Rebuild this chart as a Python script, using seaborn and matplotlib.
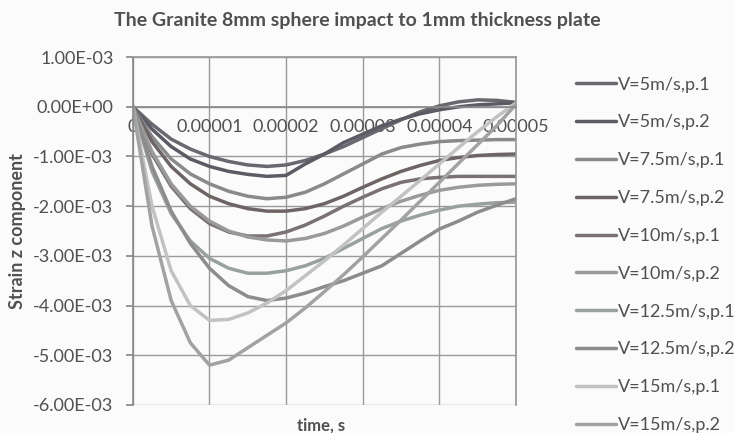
import seaborn as sns
import pandas as pd
import matplotlib.pyplot as plt

# time axis, seconds
time_s = [0, 0.25e-5, 0.5e-5, 0.75e-5, 1.0e-5, 1.25e-5, 1.5e-5, 1.75e-5, 2.0e-5, 2.25e-5,
          2.5e-5, 2.75e-5, 3.0e-5, 3.25e-5, 3.5e-5, 3.75e-5, 4.0e-5, 4.25e-5, 4.5e-5, 4.75e-5, 5.0e-5]

# strain z component (units of 1e-3)
v5_p1 = [0, -0.35, -0.65, -0.85, -1.0, -1.1, -1.17, -1.2, -1.17, -1.08, -0.95,
         -0.8, -0.62, -0.44, -0.26, -0.1, 0.02, 0.1, 0.14, 0.13, 0.09]
v5_p2 = [0, -0.45, -0.8, -1.05, -1.2, -1.3, -1.36, -1.4, -1.38, -1.15, -0.95,
         -0.72, -0.55, -0.38, -0.25, -0.14, -0.06, 0.0, 0.04, 0.06, 0.08]
v75_p1 = [0, -0.6, -1.05, -1.35, -1.55, -1.7, -1.8, -1.85, -1.82, -1.72, -1.55,
          -1.35, -1.15, -0.95, -0.82, -0.75, -0.7, -0.68, -0.67, -0.66, -0.66]
v75_p2 = [0, -0.7, -1.2, -1.55, -1.8, -1.95, -2.05, -2.1, -2.1, -2.05, -1.95,
          -1.8, -1.62, -1.45, -1.3, -1.18, -1.08, -1.02, -0.98, -0.96, -0.95]
v10_p1 = [0, -0.95, -1.6, -2.05, -2.35, -2.52, -2.6, -2.6, -2.52, -2.38, -2.2,
          -2.0, -1.82, -1.65, -1.52, -1.45, -1.42, -1.4, -1.4, -1.4, -1.4]
v10_p2 = [0, -0.9, -1.55, -2.0, -2.3, -2.5, -2.62, -2.68, -2.7, -2.65, -2.55,
          -2.4, -2.22, -2.05, -1.9, -1.78, -1.68, -1.62, -1.58, -1.56, -1.55]
v125_p1 = [0, -1.3, -2.15, -2.7, -3.05, -3.25, -3.35, -3.35, -3.3, -3.2, -3.05,
           -2.85, -2.65, -2.45, -2.3, -2.18, -2.08, -2.0, -1.96, -1.93, -1.92]
v125_p2 = [0, -1.2, -2.1, -2.75, -3.25, -3.6, -3.82, -3.9, -3.85, -3.75, -3.62,
           -3.5, -3.35, -3.2, -2.95, -2.7, -2.46, -2.3, -2.12, -1.98, -1.85]
v15_p1 = [0, -2.0, -3.3, -4.0, -4.3, -4.28, -4.15, -3.95, -3.7, -3.4, -3.1,
          -2.78, -2.45, -2.12, -1.8, -1.48, -1.15, -0.82, -0.5, -0.2, 0.08]
v15_p2 = [0, -2.4, -3.9, -4.75, -5.2, -5.1, -4.85, -4.6, -4.35, -4.05, -3.72,
          -3.38, -3.02, -2.65, -2.28, -1.9, -1.52, -1.14, -0.76, -0.38, 0.05]

series_names = ["V=5m/s,p.1", "V=5m/s,p.2", "V=7.5m/s,p.1", "V=7.5m/s,p.2", "V=10m/s,p.1",
                "V=10m/s,p.2", "V=12.5m/s,p.1", "V=12.5m/s,p.2", "V=15m/s,p.1", "V=15m/s,p.2"]
series_vals = [v5_p1, v5_p2, v75_p1, v75_p2, v10_p1, v10_p2, v125_p1, v125_p2, v15_p1, v15_p2]
series_colors = ["#68686e", "#5c5a64", "#8a8a8c", "#6e6464", "#7a7272",
                 "#9a9a9a", "#98a0a0", "#8c8c8c", "#c2c2c2", "#a2a2a2"]

x_ticks = [0, 1e-5, 2e-5, 3e-5, 4e-5, 5e-5]
x_ticklabels = ["0", "0.00001", "0.00002", "0.00003", "0.00004", "0.00005"]
y_ticks = [1e-3, 0, -1e-3, -2e-3, -3e-3, -4e-3, -5e-3, -6e-3]

rows = []
for name, vals in zip(series_names, series_vals):
    for t, v in zip(time_s, vals):
        rows.append({"time": t, "strain": v * 1e-3, "series": name})
df = pd.DataFrame(rows)

sns.set_theme(style="white")
plt.rcParams['font.family'] = ['Lato', 'DejaVu Sans']
txt = "#505050"
bg = "#fbfbfc"

fig = plt.figure(figsize=(7.34, 4.33), dpi=100)
fig.patch.set_facecolor(bg)
ax = fig.add_axes([0.181, 0.065, 0.522, 0.803])
ax.set_facecolor(bg)

sns.lineplot(data=df, x="time", y="strain", hue="series", hue_order=series_names,
             palette=dict(zip(series_names, series_colors)), linewidth=2.5, ax=ax)

# horizontal axis crosses at zero, excel style
for s in ax.spines.values():
    s.set_color("#9a9a9a")
ax.spines['bottom'].set_position(('data', 0))
ax.spines['bottom'].set_color("#8a8a8a")
ax.spines['left'].set_color("#8a8a8a")

ax.set_xlim(0, 5e-5)
ax.set_ylim(-6e-3, 1e-3)
ax.set_xticks(x_ticks)
ax.set_xticklabels(x_ticklabels)
ax.set_yticks(y_ticks)
ax.set_yticklabels(["%.2E" % v for v in y_ticks])
ax.tick_params(axis="y", length=5, color="#8a8a8a", left=True, pad=9,
               labelsize=13, labelcolor=txt)
ax.tick_params(axis="x", length=0, pad=9, labelsize=13, labelcolor=txt)

ax.grid(True, color="#9a9a9a", linewidth=1)

ax.set_xlabel("time, s", fontsize=12, fontweight="bold", color=txt)
ax.xaxis.set_label_coords(0.49, -0.035)
ax.set_ylabel("Strain z component", fontsize=13, fontweight="bold", color=txt)
ax.yaxis.set_label_coords(-0.28, 0.5)

fig.text(0.487, 0.952, "The Granite 8mm sphere impact to 1mm thickness plate",
         ha="center", va="center", fontsize=14, fontweight="bold", color=txt)

sns.move_legend(ax, "upper left", bbox_to_anchor=(0.775, 0.840), bbox_transform=fig.transFigure,
                frameon=False, title=None, fontsize=13, labelspacing=1.21, handlelength=2.2,
                handletextpad=0.1, borderaxespad=0, labelcolor=txt)

fig.savefig("out.png", dpi=100, facecolor=fig.get_facecolor())
